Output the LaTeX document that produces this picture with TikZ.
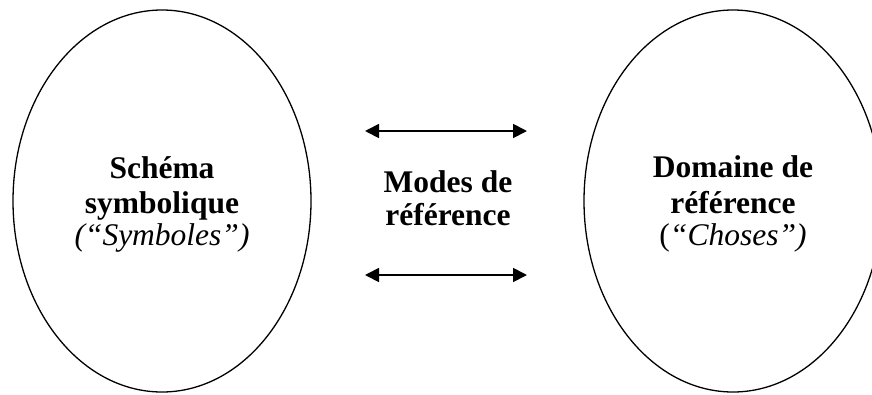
\documentclass[tikz,border=0pt]{standalone}
\usepackage{fontspec}
\setmainfont{Liberation Serif}
\usetikzlibrary{shapes.geometric,arrows.meta}
\begin{document}
\begin{tikzpicture}[x=1pt,y=-1pt,
  oval/.style={draw,ellipse,line width=1.3pt,inner sep=0pt,minimum width=298pt,minimum height=382pt},
  txt/.style={anchor=base,inner sep=0pt,font=\fontsize{31.5}{33}\selectfont},
  dblarrow/.style={line width=1.8pt,{Triangle[length=14pt,width=14pt]}-{Triangle[length=14pt,width=14pt]}}]
\clip (0,0) rectangle (872,394);
\useasboundingbox (0,0) rectangle (872,394);
\node[oval] (L) at (162,201) {};
\node[oval] (R) at (733,201) {};
\node[txt] (L1) at (162,178) {\bfseries Schéma};
\node[txt] (L2) at (162,213) {\bfseries symbolique};
\node[txt] (L3) at (162,245) {\itshape (“Symboles”)};
\node[txt] (R1) at (733,177) {\bfseries Domaine de};
\node[txt] (R2) at (733,213) {\bfseries référence};
\node[txt] (R3) at (733,245) {(\textit{“Choses”)}};
\node[txt] (M1) at (448,192) {\bfseries Modes de};
\node[txt] (M2) at (448,225) {\bfseries référence};
\coordinate (a1) at (365,131);
\coordinate (a2) at (527,131);
\coordinate (b1) at (365,275);
\coordinate (b2) at (527,275);
\draw[dblarrow] (a1) -- (a2);
\draw[dblarrow] (b1) -- (b2);
\end{tikzpicture}
\end{document}
